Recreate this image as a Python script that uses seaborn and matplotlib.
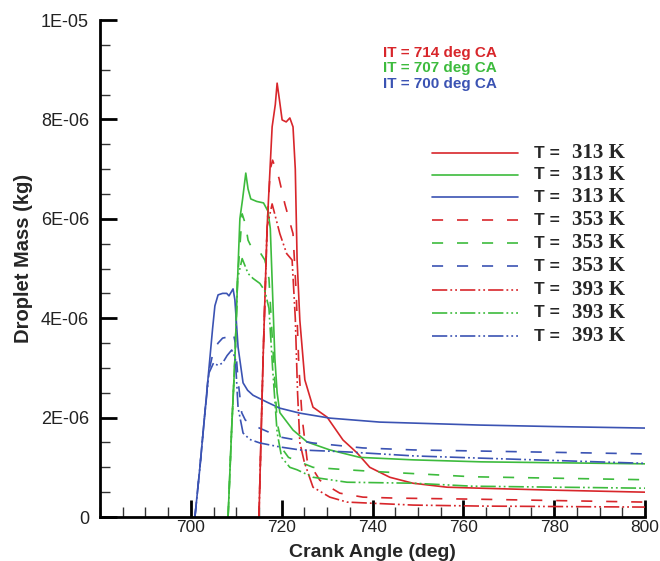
import matplotlib
matplotlib.use("Agg")
import matplotlib.pyplot as plt
from matplotlib.lines import Line2D
from matplotlib.ticker import FixedLocator, MultipleLocator
import numpy as np
import pandas as pd
import seaborn as sns

# ---------------- data (mass values in units of 1E-06 kg) ----------------
x_700_313 = [700.9, 702, 703, 704, 704.8, 705.3, 706, 707, 707.9, 708.4, 709.3, 709.7, 710.4, 711.5, 712.5, 713.7, 716.8, 719.6, 724, 730.6, 741.6, 763.7, 780, 800]
y_700_313 = [0, 1.0, 2.0, 3.0, 3.8, 4.25, 4.47, 4.5, 4.5, 4.45, 4.59, 4.37, 3.42, 2.7, 2.55, 2.45, 2.31, 2.19, 2.09, 1.99, 1.91, 1.85, 1.82, 1.79]

x_700_353 = [700.9, 702, 703, 703.9, 705, 706, 707, 708, 709.3, 709.8, 710.4, 711.2, 712, 714.6, 719.6, 726.9, 737.9, 749, 762, 800]
y_700_353 = [0, 1.0, 2.0, 2.9, 3.35, 3.5, 3.6, 3.62, 3.72, 3.5, 2.75, 2.1, 1.95, 1.81, 1.61, 1.49, 1.39, 1.35, 1.33, 1.27]

x_700_393 = [700.9, 702, 703, 704, 705, 706, 707, 708, 709, 709.8, 710.4, 711.5, 713, 715.2, 719.6, 724, 734.4, 749, 762, 800]
y_700_393 = [0, 1.0, 2.0, 2.9, 3.1, 3.05, 3.1, 3.25, 3.36, 3.2, 2.2, 1.69, 1.56, 1.49, 1.41, 1.35, 1.31, 1.23, 1.19, 1.08]

x_707_313 = [708.2, 709, 709.7, 710.3, 710.8, 711.4, 712.1, 712.6, 713.2, 714.5, 716, 717, 717.5, 718, 718.5, 719, 719.6, 722.5, 725.6, 730.6, 737.2, 749, 764, 800]
y_707_313 = [0, 1.8, 3.16, 4.8, 6.0, 6.4, 6.92, 6.6, 6.4, 6.35, 6.32, 6.15, 5.8, 4.5, 3.2, 2.5, 2.1, 1.75, 1.51, 1.35, 1.2, 1.15, 1.11, 1.07]

x_707_353 = [708.2, 709, 709.7, 710.3, 711.3, 712, 712.6, 713.5, 715.2, 716.3, 717.2, 718, 719, 720.3, 721.5, 726.9, 734.4, 741.6, 762, 800]
y_707_353 = [0, 1.8, 3.16, 4.8, 6.1, 5.9, 5.57, 5.4, 5.33, 5.17, 4.8, 3.5, 1.9, 1.35, 1.2, 1.0, 0.95, 0.91, 0.81, 0.75]

x_707_393 = [708.2, 709, 709.7, 710.3, 711.3, 712.6, 713.7, 715.2, 716.3, 717.2, 718, 719, 720, 721.8, 723.4, 726.9, 734.4, 749, 762, 800]
y_707_393 = [0, 1.8, 3.16, 4.8, 5.2, 4.9, 4.8, 4.7, 4.55, 4.2, 3.0, 1.7, 1.2, 1.0, 0.95, 0.8, 0.7, 0.68, 0.62, 0.58]

x_714_313 = [715, 715.9, 716.8, 717.9, 718.6, 719, 719.5, 720.1, 721, 721.8, 722.5, 723, 723.4, 724, 725.1, 726.9, 730, 733.5, 736.6, 739.4, 743.8, 748.9, 756.4, 763.7, 780, 800]
y_714_313 = [0, 3.16, 5.84, 7.85, 8.3, 8.73, 8.4, 7.99, 7.95, 8.03, 7.85, 7.0, 5.17, 3.96, 2.76, 2.21, 2.01, 1.55, 1.29, 1.0, 0.8, 0.68, 0.6, 0.58, 0.54, 0.5]

x_714_353 = [715, 715.9, 716.8, 717.5, 718, 719.4, 720.7, 722.5, 723.2, 723.8, 724.5, 725.6, 728.4, 730.6, 732.8, 737.9, 745.3, 762, 800]
y_714_353 = [0, 3.16, 5.84, 7.0, 7.18, 6.82, 6.3, 5.7, 4.5, 3.0, 2.0, 1.15, 0.74, 0.6, 0.48, 0.4, 0.38, 0.36, 0.3]

x_714_393 = [715, 715.9, 716.8, 717.9, 719.6, 721.1, 722.3, 723, 723.5, 724, 725, 726.9, 730.6, 734.4, 749, 764, 800]
y_714_393 = [0, 3.16, 5.84, 6.3, 5.7, 5.3, 5.17, 4.0, 2.5, 1.5, 1.1, 0.6, 0.4, 0.3, 0.24, 0.22, 0.2]

injection_timings = ["714", "707", "700"]
temperatures = ["313", "353", "393"]
x_ticks = [700, 720, 740, 760, 780, 800]
y_ticks = [0, 2e-6, 4e-6, 6e-6, 8e-6, 1e-5]
y_tick_labels = ["0", "2E-06", "4E-06", "6E-06", "8E-06", "1E-05"]
legend_temps = ["313", "313", "313", "353", "353", "353", "393", "393", "393"]
legend_it = ["714", "707", "700", "714", "707", "700", "714", "707", "700"]

curves = {
    ("714", "313"): (x_714_313, y_714_313),
    ("707", "313"): (x_707_313, y_707_313),
    ("700", "313"): (x_700_313, y_700_313),
    ("714", "353"): (x_714_353, y_714_353),
    ("707", "353"): (x_707_353, y_707_353),
    ("700", "353"): (x_700_353, y_700_353),
    ("714", "393"): (x_714_393, y_714_393),
    ("707", "393"): (x_707_393, y_707_393),
    ("700", "393"): (x_700_393, y_700_393),
}

# ---------------- styles ----------------
colors = {"714": "#d8262b", "707": "#3dbb3d", "700": "#3b53b3"}
styles = {"313": "-", "353": (0, (8, 10)), "393": (0, (11, 2.2, 1.3, 2.2, 1.3, 2.2))}

sns.set_style("white")
plt.rcParams["font.family"] = ["Liberation Sans", "DejaVu Sans"]
plt.rcParams["lines.scale_dashes"] = False

fig = plt.figure(figsize=(6.6, 5.61), dpi=100)
ax = fig.add_axes([0.1515, 0.0784, 0.8258, 0.8859])

for (it, temp), (xs, ys) in curves.items():
    df = pd.DataFrame({"angle": xs, "mass": np.array(ys) * 1e-6})
    sns.lineplot(data=df, x="angle", y="mass", ax=ax, color=colors[it],
                 linestyle=styles[temp], linewidth=1.2, estimator=None,
                 sort=False)

ax.set_xlim(680, 800)
ax.set_ylim(0, 1e-5)
ax.xaxis.set_major_locator(FixedLocator(x_ticks))
ax.xaxis.set_minor_locator(MultipleLocator(5))
ax.yaxis.set_major_locator(FixedLocator(y_ticks))
ax.yaxis.set_minor_locator(MultipleLocator(5e-7))
ax.set_yticklabels(y_tick_labels)
ax.set_xticklabels([str(v) for v in x_ticks])

for side in ["top", "right"]:
    ax.spines[side].set_visible(False)
for side in ["left", "bottom"]:
    ax.spines[side].set_color("black")
    ax.spines[side].set_linewidth(2)

ax.tick_params(which="major", direction="in", length=12, width=2, color="black")
ax.tick_params(which="minor", direction="in", length=7, width=1, color="#333333")
ax.tick_params(axis="y", which="major", labelsize=13, labelcolor="#222222", pad=8)
ax.tick_params(axis="x", which="major", labelsize=12.5, labelcolor="#222222", pad=2.5)
ax.tick_params(axis="x", which="both", bottom=True)
ax.tick_params(axis="y", which="both", left=True)

ax.set_xlabel("Crank Angle (deg)", fontsize=14, fontweight="bold")
ax.set_ylabel("Droplet Mass (kg)", fontsize=14.5, fontweight="bold")
ax.xaxis.label.set_va("baseline")
ax.yaxis.label.set_va("center")
ax.xaxis.set_label_coords(0.5, -0.0812)
ax.yaxis.set_label_coords(-0.141, 0.52)

# annotations for injection timing
ann_y = [0.934, 0.903, 0.871]
for it, yy in zip(injection_timings, ann_y):
    ax.text(0.519, yy, f"IT = {it} deg CA", transform=ax.transAxes,
            color=colors[it], fontsize=11, fontweight="bold", va="center", ha="left")

# legend (drawn manually to mix fonts)
row_y = [0.732, 0.689, 0.643, 0.597, 0.551, 0.505, 0.457, 0.411, 0.364]
for it, temp, yy in zip(legend_it, legend_temps, row_y):
    ax.add_line(Line2D([0.609, 0.767], [yy, yy], transform=ax.transAxes,
                       color=colors[it], linestyle=styles[temp], linewidth=1.2))
    ax.text(0.797, yy, "T =", transform=ax.transAxes, fontsize=12.5,
            fontweight="bold", va="center", ha="left")
    ax.text(0.866, yy, f"{temp} K", transform=ax.transAxes, fontsize=15,
            fontweight="bold", family=["Liberation Serif", "DejaVu Serif"],
            va="center", ha="left")

ax.set_facecolor("white")
fig.savefig("out.png", dpi=100, facecolor="white")
